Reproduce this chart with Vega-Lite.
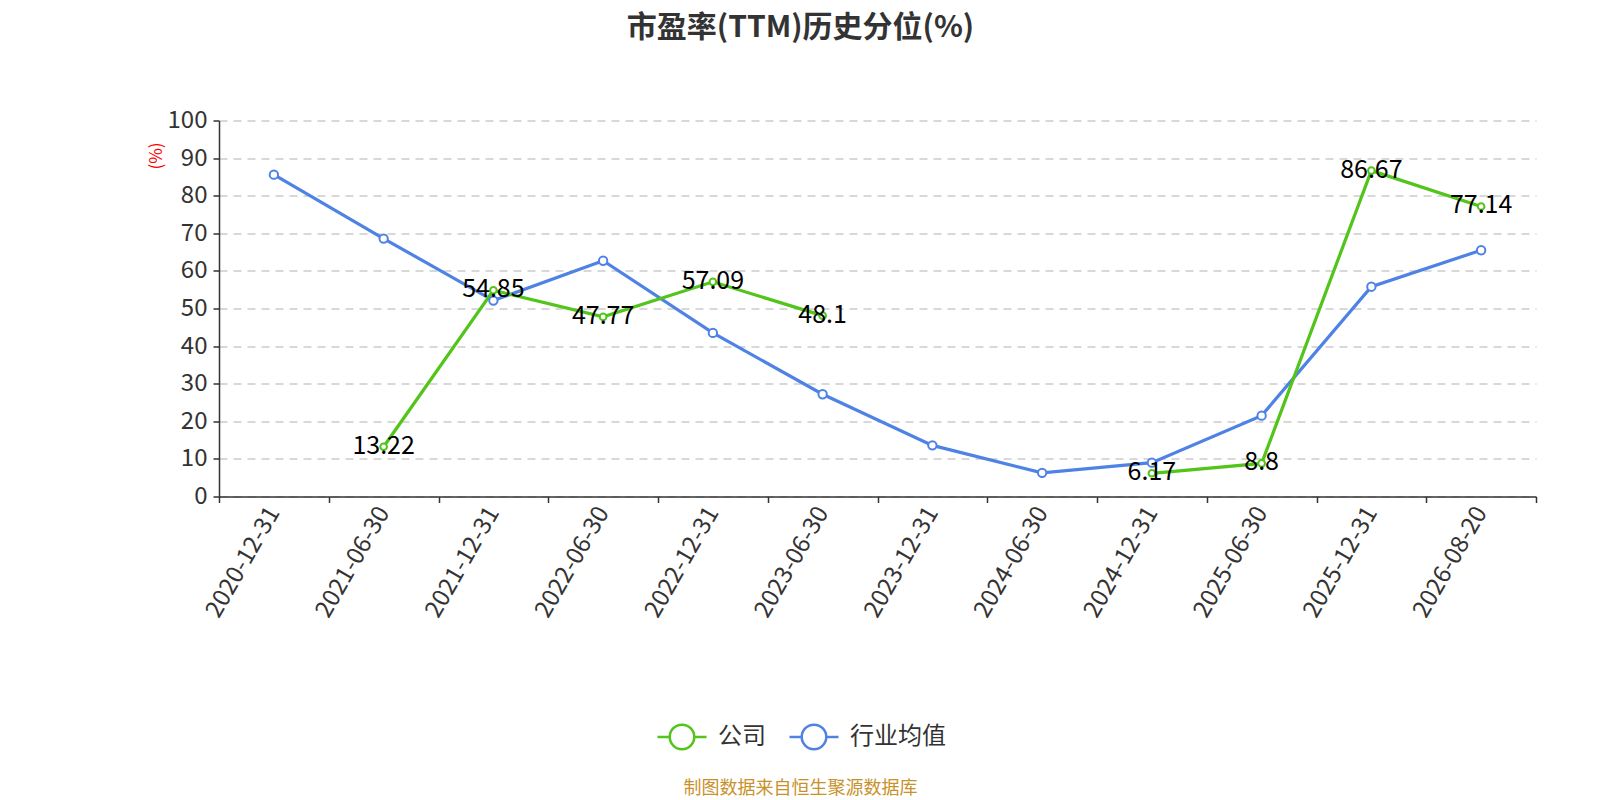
{
  "$schema": "https://vega.github.io/schema/vega-lite/v6.json",
  "autosize": {"type": "none"},
  "padding": {"left": 219, "top": 120.5, "right": 64, "bottom": 303.5},
  "width": 1317,
  "height": 376,
  "background": "white",
  "title": {
    "text": "市盈率(TTM)历史分位(%)",
    "fontSize": 30,
    "fontWeight": "bold",
    "color": "#333333",
    "font": "Noto Sans CJK SC",
    "anchor": "middle",
    "frame": "group",
    "dx": -77,
    "baseline": "middle",
    "offset": 51
  },
  "data": {
    "values": [
      {"date": "2020-12-31", "series": "行业均值", "value": 85.6},
      {"date": "2021-06-30", "series": "行业均值", "value": 68.6},
      {"date": "2021-12-31", "series": "行业均值", "value": 52.1},
      {"date": "2022-06-30", "series": "行业均值", "value": 62.7},
      {"date": "2022-12-31", "series": "行业均值", "value": 43.5},
      {"date": "2023-06-30", "series": "行业均值", "value": 27.2},
      {"date": "2023-12-31", "series": "行业均值", "value": 13.6},
      {"date": "2024-06-30", "series": "行业均值", "value": 6.3},
      {"date": "2024-12-31", "series": "行业均值", "value": 9.0},
      {"date": "2025-06-30", "series": "行业均值", "value": 21.5},
      {"date": "2025-12-31", "series": "行业均值", "value": 55.8},
      {"date": "2026-08-20", "series": "行业均值", "value": 65.5},
      {"date": "2020-12-31", "series": "公司", "value": null},
      {"date": "2021-06-30", "series": "公司", "value": 13.22},
      {"date": "2021-12-31", "series": "公司", "value": 54.85},
      {"date": "2022-06-30", "series": "公司", "value": 47.77},
      {"date": "2022-12-31", "series": "公司", "value": 57.09},
      {"date": "2023-06-30", "series": "公司", "value": 48.1},
      {"date": "2023-12-31", "series": "公司", "value": null},
      {"date": "2024-06-30", "series": "公司", "value": null},
      {"date": "2024-12-31", "series": "公司", "value": 6.17},
      {"date": "2025-06-30", "series": "公司", "value": 8.8},
      {"date": "2025-12-31", "series": "公司", "value": 86.67},
      {"date": "2026-08-20", "series": "公司", "value": 77.14}
    ]
  },
  "encoding": {
    "x": {
      "field": "date",
      "type": "nominal",
      "sort": null,
      "scale": {"type": "band", "paddingInner": 0, "paddingOuter": 0},
      "axis": {
        "title": "制图数据来自恒生聚源数据库",
        "titleColor": "#c8922b",
        "titleFontSize": 18,
        "titleFontWeight": "normal",
        "titleX": 581,
        "titleY": 292,
        "titleAlign": "center",
        "titleBaseline": "middle",
        "labelAngle": -60,
        "labelAlign": "right",
        "labelBaseline": "middle",
        "labelFontSize": 24,
        "labelColor": "#333333",
        "labelPadding": 6,
        "labelOverlap": false,
        "tickBand": "extent",
        "tickSize": 6,
        "tickColor": "#333333",
        "tickWidth": 1.5,
        "domainColor": "#333333",
        "domainWidth": 1.5,
        "grid": false
      }
    },
    "y": {
      "field": "value",
      "type": "quantitative",
      "scale": {"domain": [0, 100], "nice": false},
      "axis": {
        "title": "(%)",
        "titleColor": "red",
        "titleFontSize": 17,
        "titleFontWeight": "normal",
        "titleX": -63,
        "titleY": 35,
        "titleAlign": "center",
        "titleBaseline": "middle",
        "titleAngle": -90,
        "values": [0, 10, 20, 30, 40, 50, 60, 70, 80, 90, 100],
        "labelFontSize": 24,
        "labelColor": "#333333",
        "labelPadding": 6,
        "tickSize": 6,
        "tickColor": "#333333",
        "tickWidth": 1.5,
        "domainColor": "#333333",
        "domainWidth": 1.5,
        "grid": true,
        "gridColor": "#cccccc",
        "gridDash": [8, 6],
        "gridWidth": 1.5
      }
    }
  },
  "layer": [
    {
      "mark": {"type": "line", "strokeWidth": 3.2, "invalid": "break-paths-filter-domains"},
      "encoding": {
        "stroke": {
          "field": "series",
          "type": "nominal",
          "scale": {"domain": ["公司", "行业均值"], "range": ["#52c41a", "#4e82e4"]},
          "legend": {
            "title": null,
            "orient": "none",
            "legendX": 437,
            "legendY": 590,
            "direction": "horizontal",
            "labelFontSize": 24,
            "labelColor": "#333333",
            "labelOffset": 10,
            "columnPadding": 18,
            "symbolType": "M-1,0L-0.5,0M0.5,0A0.5,0.5 0 1,1 -0.5,0A0.5,0.5 0 1,1 0.5,0M0.5,0L1,0",
            "symbolSize": 2401,
            "symbolStrokeWidth": 2.5,
            "symbolFillColor": "white",
            "encode": {
              "symbols": {
                "update": {
                  "shape": {"value": "M-1,0L-0.5,0M0.5,0A0.5,0.5 0 1,1 -0.5,0A0.5,0.5 0 1,1 0.5,0M0.5,0L1,0"},
                  "size": {"value": 2401},
                  "fill": {"value": "white"},
                  "fillOpacity": {"value": 1},
                  "strokeWidth": {"value": 2.5},
                  "opacity": {"value": 1}
                }
              }
            }
          }
        }
      }
    },
    {
      "transform": [{"filter": "datum.series === '行业均值'"}],
      "mark": {"type": "point", "shape": "circle", "filled": false, "fill": "white", "fillOpacity": 1, "opacity": 1, "strokeWidth": 2, "size": 70},
      "encoding": {
        "stroke": {"field": "series", "type": "nominal"}
      }
    },
    {
      "transform": [{"filter": "datum.series === '公司'"}],
      "mark": {"type": "point", "shape": "circle", "filled": false, "fill": "white", "fillOpacity": 1, "opacity": 1, "strokeWidth": 2, "size": 44},
      "encoding": {
        "stroke": {"field": "series", "type": "nominal"}
      }
    },
    {
      "transform": [{"filter": "datum.series === '公司' && datum.value != null"}],
      "mark": {"type": "text", "fontSize": 25, "color": "black", "baseline": "middle", "align": "center", "dy": -1},
      "encoding": {
        "text": {"field": "value", "type": "quantitative"}
      }
    }
  ],
  "config": {
    "font": "Noto Sans CJK SC",
    "view": {"stroke": null}
  }
}
